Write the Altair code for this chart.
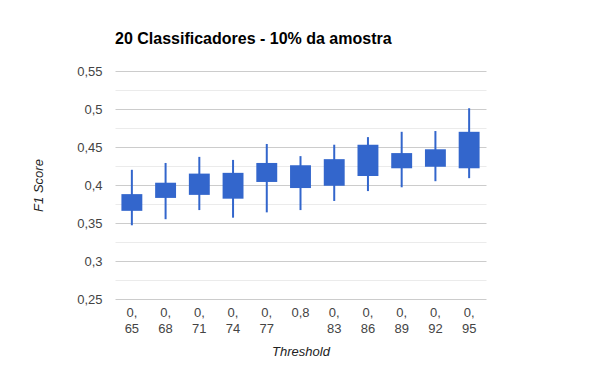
import altair as alt
import pandas as pd

categories = ["0,65", "0,68", "0,71", "0,74", "0,77", "0,8", "0,83", "0,86", "0,89", "0,92", "0,95"]
low = [0.347, 0.355, 0.367, 0.357, 0.364, 0.367, 0.379, 0.392, 0.397, 0.405, 0.409]
box_low = [0.366, 0.383, 0.387, 0.382, 0.404, 0.396, 0.399, 0.412, 0.422, 0.424, 0.422]
box_high = [0.388, 0.403, 0.415, 0.416, 0.429, 0.426, 0.434, 0.453, 0.442, 0.447, 0.470]
high = [0.420, 0.429, 0.437, 0.433, 0.454, 0.438, 0.453, 0.463, 0.470, 0.471, 0.501]

y_ticks = [0.25, 0.275, 0.3, 0.325, 0.35, 0.375, 0.4, 0.425, 0.45, 0.475, 0.5, 0.525, 0.55]

df = pd.DataFrame({
    "cat": categories,
    "low": low,
    "open": box_low,
    "close": box_high,
    "high": high,
})

FONT = "Liberation Sans"
BLUE = "#3366cc"

x_enc = alt.X(
    "cat:N",
    sort=categories,
    title="Threshold",
    scale=alt.Scale(paddingInner=0, paddingOuter=0),
    axis=alt.Axis(
        labelAngle=0,
        ticks=False,
        domain=False,
        grid=False,
        labelPadding=7,
        labelFontSize=13,
        labelColor="#444444",
        labelFont=FONT,
        labelLineHeight=16,
        labelBaseline="top",
        labelExpr="datum.value == '0,8' ? '0,8' : ['0,', slice(datum.value, 2)]",
        titleFont=FONT,
        titleFontSize=13,
        titleFontStyle="italic",
        titleFontWeight="normal",
        titleColor="#222222",
        titlePadding=10,
    ),
)

y_scale = alt.Scale(domain=[0.25, 0.55], nice=False, zero=False)
y_axis = alt.Axis(
    values=y_ticks,
    ticks=False,
    domain=False,
    labelPadding=13,
    labelFontSize=13,
    labelColor="#444444",
    labelFont=FONT,
    labelExpr="round(datum.value*1000) % 50 == 0 ? replace(format(datum.value, '.2~f'), '.', ',') : ''",
    gridColor={"condition": {"test": "round(datum.value*1000) % 50 == 0", "value": "#cccccc"}, "value": "#ebebeb"},
    gridWidth=1,
    titleFont=FONT,
    titleFontSize=13,
    titleFontStyle="italic",
    titleFontWeight="normal",
    titleColor="#222222",
    titlePadding=31,
)

base = alt.Chart(df)

wick = base.mark_rule(color=BLUE, strokeWidth=2).encode(
    x=x_enc,
    y=alt.Y("low:Q", scale=y_scale, axis=y_axis, title="F1 Score"),
    y2="high:Q",
)

box = base.mark_bar(color=BLUE, width={"band": 0.62}).encode(
    x=x_enc,
    y=alt.Y("open:Q", scale=y_scale, axis=y_axis, title="F1 Score"),
    y2="close:Q",
)

chart = alt.layer(wick, box).properties(
    width=371,
    height=228,
    title=alt.TitleParams(
        "20 Classificadores - 10% da amostra",
        anchor="start",
        frame="group",
        font=FONT,
        fontSize=16,
        fontWeight="bold",
        color="#000000",
        offset=18,
    ),
    autosize=alt.AutoSizeParams(type="none"),
    padding={"left": 107, "top": 63, "right": 100, "bottom": 60},
).configure_view(stroke=None)

chart.save("out.html", embed_options={"renderer": "svg", "actions": False})
